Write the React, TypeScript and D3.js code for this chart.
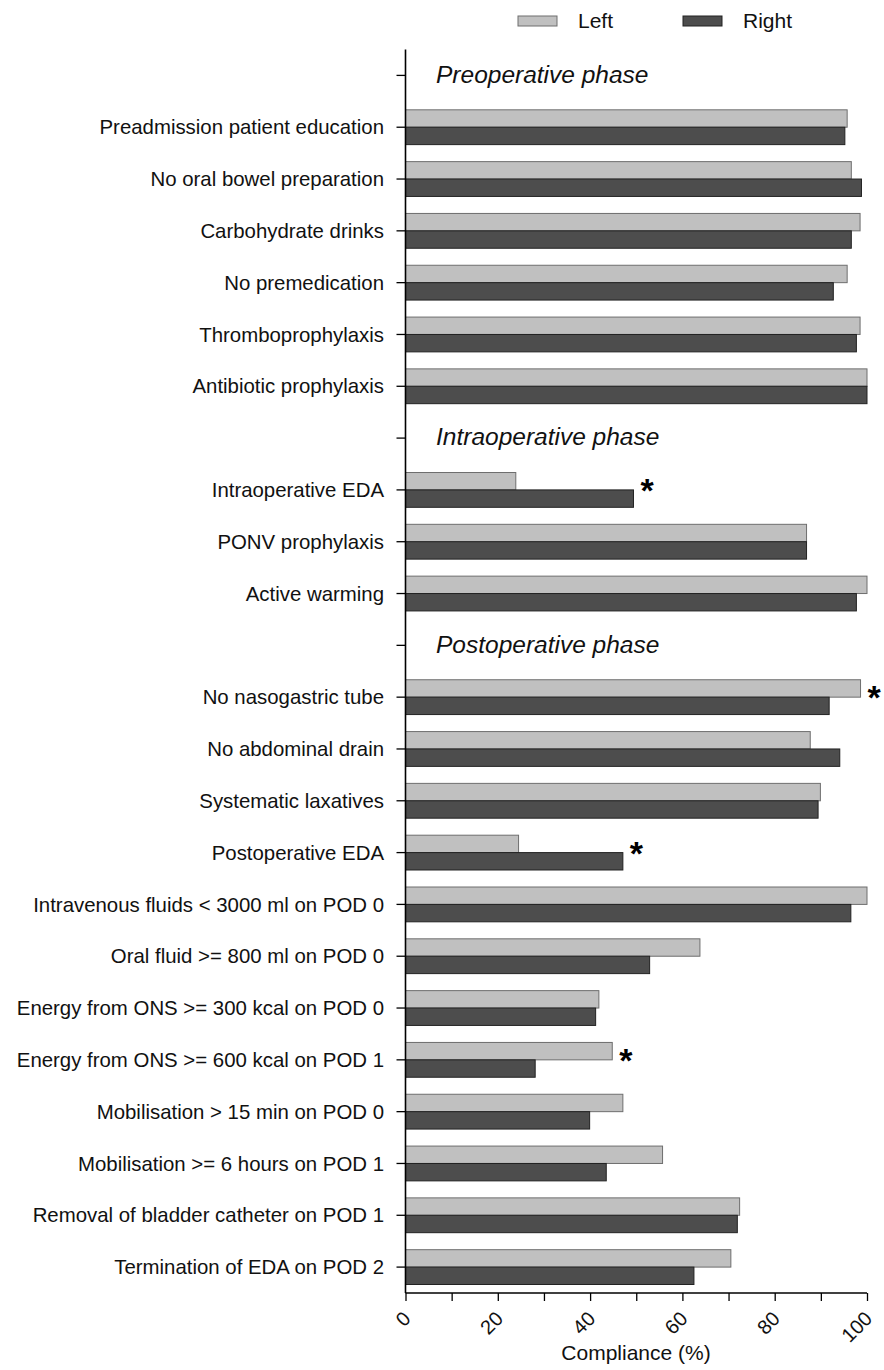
import { axisBottom, axisLeft, scaleBand, scaleLinear, select, max } from "d3";
import { useEffect, useRef } from "react";

const phases = ["Preoperative phase", "Intraoperative phase", "Postoperative phase"];

const categories = [
  "Preadmission patient education",
  "No oral bowel preparation",
  "Carbohydrate drinks",
  "No premedication",
  "Thromboprophylaxis",
  "Antibiotic prophylaxis",
  "Intraoperative EDA",
  "PONV prophylaxis",
  "Active warming",
  "No nasogastric tube",
  "No abdominal drain",
  "Systematic laxatives",
  "Postoperative EDA",
  "Intravenous fluids < 3000 ml on POD 0",
  "Oral fluid >= 800 ml on POD 0",
  "Energy from ONS >= 300 kcal on POD 0",
  "Energy from ONS >= 600 kcal on POD 1",
  "Mobilisation > 15 min on POD 0",
  "Mobilisation >= 6 hours on POD 1",
  "Removal of bladder catheter on POD 1",
  "Termination of EDA on POD 2",
];

const categoryPhase = [0, 0, 0, 0, 0, 0, 1, 1, 1, 2, 2, 2, 2, 2, 2, 2, 2, 2, 2, 2, 2];

const leftValues = [95.7, 96.6, 98.5, 95.7, 98.5, 100, 23.9, 86.9, 100, 98.6, 87.7, 89.9, 24.5, 100, 63.8, 41.9, 44.8, 47.1, 55.7, 72.4, 70.5];
const rightValues = [95.2, 98.8, 96.6, 92.7, 97.7, 100, 49.4, 86.9, 97.7, 91.8, 94.1, 89.4, 47.1, 96.5, 52.9, 41.2, 28.1, 39.9, 43.5, 71.9, 62.5];

const significant = [
  "Intraoperative EDA",
  "No nasogastric tube",
  "Postoperative EDA",
  "Energy from ONS >= 600 kcal on POD 1",
];

const series = ["Left", "Right"];
const seriesFill = ["#c0c0c0", "#4d4d4d"];
const seriesStroke = ["#6e6e6e", "#222222"];

const FONT = "'Liberation Sans', Arial, sans-serif";

// headings and categories share the same row slots
const slots = [];
categories.forEach((c, i) => {
  if (i === 0 || categoryPhase[i] !== categoryPhase[i - 1]) {
    slots.push({ key: "h" + categoryPhase[i], heading: phases[categoryPhase[i]] });
  }
  slots.push({ key: c, label: c, left: leftValues[i], right: rightValues[i] });
});

const margin = { left: 405.5, top: 49.5, right: 17, bottom: 77 };
const W = 884;
const H = 1370;

function XAxis({ scale, y }) {
  const ref = useRef(null);
  useEffect(() => {
    const g = select(ref.current);
    g.selectAll("*").remove();
    g.call(axisBottom(scale).tickValues([0, 10, 20, 30, 40, 50, 60, 70, 80, 90, 100]).tickSize(8).tickFormat(() => ""));
    g.select(".domain").attr("stroke", "#000").attr("stroke-width", 1.6).attr("d", `M${scale(0)},0H${scale(100)}`);
    g.selectAll(".tick line").attr("stroke", "#000").attr("stroke-width", 1.3);
  }, [scale]);
  return (
    <g>
      <g ref={ref} transform={`translate(0,${y})`} />
      {scale.ticks(5).map((t) => (
        <text
          key={t}
          transform={`translate(${scale(t) + 1.5},${y + 22}) rotate(-45)`}
          textAnchor="end"
          dy="0.35em"
          fontSize={20}
          fontFamily={FONT}
          fill="#111"
        >
          {t}
        </text>
      ))}
    </g>
  );
}

function YAxis({ scale, x }) {
  const ref = useRef(null);
  useEffect(() => {
    const g = select(ref.current);
    g.selectAll("*").remove();
    g.call(axisLeft(scale).tickSize(9).tickFormat(() => ""));
    g.select(".domain").attr("stroke", "#000").attr("stroke-width", 1.6).attr("d", `M0,${scale.range()[0]}V${scale.range()[1]}`);
    g.selectAll(".tick line").attr("stroke", "#000").attr("stroke-width", 1.3);
  }, [scale]);
  return <g ref={ref} transform={`translate(${x},0)`} />;
}

export default function App() {
  const x = scaleLinear().domain([0, 100]).range([margin.left, W - margin.right]);
  const y = scaleBand()
    .domain(slots.map((s) => s.key))
    .range([margin.top, H - margin.bottom])
    .padding(0);
  const barH = 17.4;
  const inner = scaleBand().domain(series).range([-barH, barH]).padding(0);
  const mid = (k) => y(k) + y.bandwidth() / 2;

  return (
    <svg width={W} height={H} style={{ position: "absolute", left: 0, top: 0, background: "#fff" }}>
      {/* legend */}
      {series.map((s, i) => (
        <g key={s} transform={`translate(${[518, 683][i]},16)`}>
          <rect width={39} height={10} fill={seriesFill[i]} stroke={seriesStroke[i]} strokeWidth={1} />
          <text x={60} y={12} fontSize={21} fontFamily={FONT} fill="#111">
            {s}
          </text>
        </g>
      ))}

      {slots.map((s) =>
        s.heading ? (
          <text key={s.key} x={436} y={mid(s.key)} dy="0.3em" fontSize={24.5} fontStyle="italic" fontFamily={FONT} fill="#111">
            {s.heading}
          </text>
        ) : (
          <g key={s.key}>
            <text x={384} y={mid(s.key)} dy="0.35em" textAnchor="end" fontSize={20.4} fontFamily={FONT} fill="#111">
              {s.label}
            </text>
            {[s.left, s.right].map((v, i) => (
              <rect
                key={i}
                x={x(0)}
                y={mid(s.key) + inner(series[i])}
                width={x(v) - x(0)}
                height={inner.bandwidth()}
                fill={seriesFill[i]}
                stroke={seriesStroke[i]}
                strokeWidth={1}
              />
            ))}
            {significant.includes(s.label) && (
              <text
                x={x(max([s.left, s.right])) + 7}
                y={mid(s.key) + 12}
                fontSize={34}
                fontWeight="bold"
                fontFamily={FONT}
                fill="#000"
              >
                *
              </text>
            )}
          </g>
        )
      )}

      <YAxis scale={y} x={margin.left} />
      <XAxis scale={x} y={H - margin.bottom} />

      <text x={636} y={1360} textAnchor="middle" fontSize={21} fontFamily={FONT} fill="#111">
        Compliance (%)
      </text>
    </svg>
  );
}
